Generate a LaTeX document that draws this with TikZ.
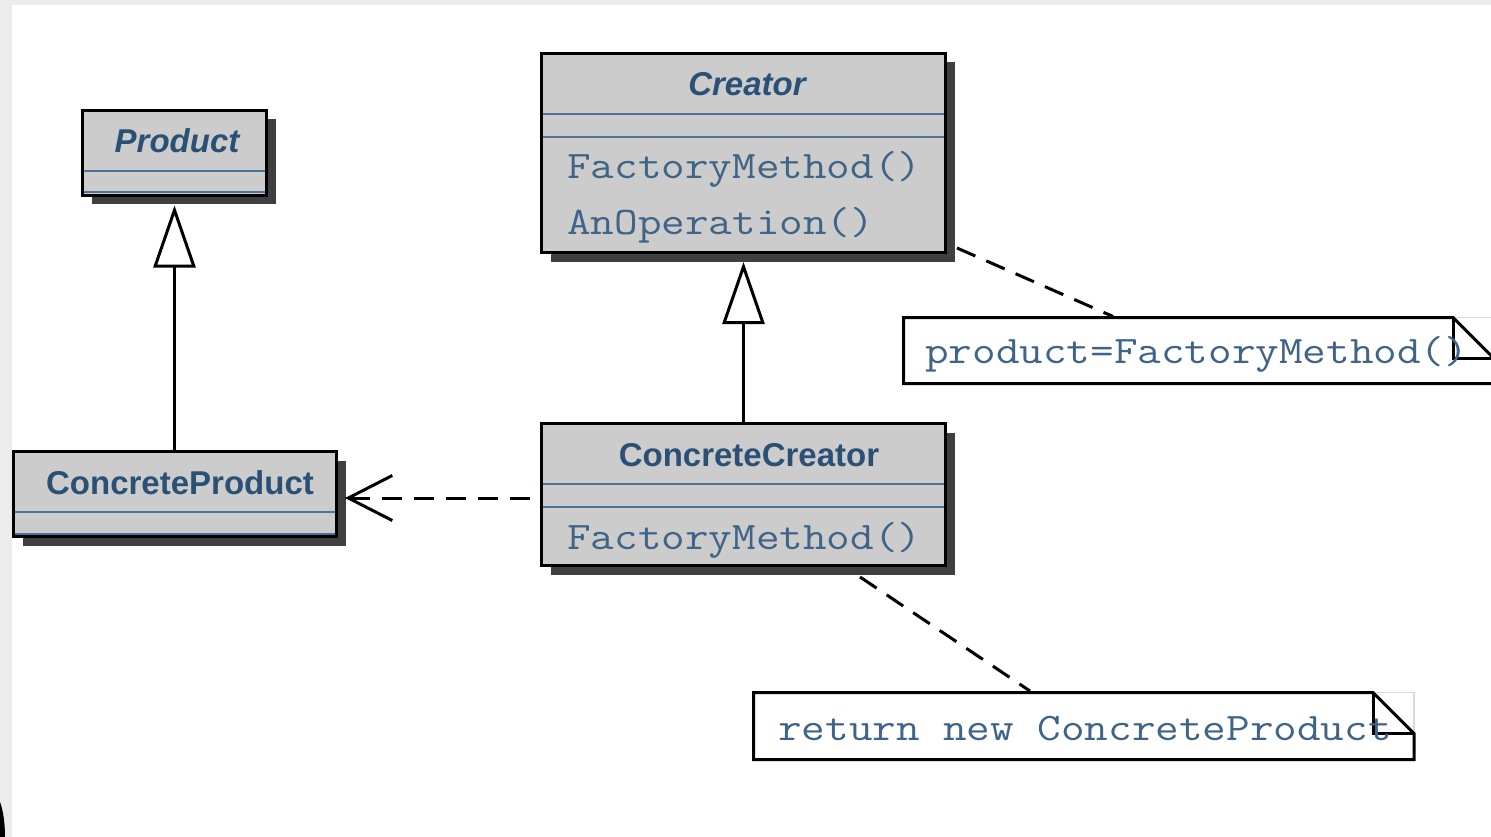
\documentclass[tikz,border=0pt]{standalone}
\usepackage{fontspec}
\setsansfont{Liberation Sans}
\setmonofont[FakeStretch=1.175]{Latin Modern Mono}
\usetikzlibrary{arrows.meta,calc,shadows}

\definecolor{boxgrey}{HTML}{CCCCCC}
\definecolor{shadowgrey}{HTML}{3F3F3F}
\definecolor{umlblue}{HTML}{2B5075}
\definecolor{sepblue}{HTML}{4D7297}
\definecolor{codeblue}{HTML}{3F6488}
\definecolor{framegrey}{HTML}{EDEBEB}
\definecolor{foldgrey}{HTML}{D9D9D9}

\tikzset{
  classbox/.style={rectangle, draw=black, line width=3pt, fill=boxgrey,
    inner sep=0pt, outer sep=0pt,
    general shadow={fill=shadowgrey, draw=none, shadow xshift=9pt, shadow yshift=-9pt}},
  notebox/.style={rectangle, draw=none, inner sep=0pt, outer sep=0pt},
  noteline/.style={draw=black, line width=3pt, line join=miter},
  foldhint/.style={draw=foldgrey, line width=1.5pt},
  sepline/.style={draw=sepblue, line width=2pt, shorten <=1.5pt, shorten >=1.5pt},
  classname/.style={inner sep=0pt, text=umlblue,
    font=\sffamily\bfseries\fontsize{33}{40}\selectfont},
  abstractname/.style={classname, font=\sffamily\bfseries\itshape\fontsize{33}{40}\selectfont},
  oper/.style={inner sep=0pt, anchor=base west, text=codeblue,
    font=\ttfamily\fontsize{39}{47}\selectfont},
  inherit/.style={draw=black, line width=3pt,
    -{Triangle[length=62pt, width=42pt, fill=white]}},
  depends/.style={draw=black, line width=3pt, dash pattern=on 20pt off 12pt,
    -{Straight Barb[length=44pt, width=45pt]}},
  anchorline/.style={draw=black, line width=3pt, dash pattern=on 20pt off 12pt},
}

\begin{document}
\begin{tikzpicture}[x=1pt, y=-1pt]
  \useasboundingbox (0,0) rectangle (1491,837);
  \fill[white] (0,0) rectangle (1491,837);
  % frame strips along the top and left edges
  \fill[framegrey] (0,0) rectangle (1491,5);
  \fill[framegrey] (0,0) rectangle (12,837);
  \fill[black] (0,802) .. controls (3,810) and (5,822) .. (5,837) -- (0,837) -- cycle;

  % class boxes
  \node[classbox, minimum width=184pt, minimum height=85pt] (prod) at (174.5,153) {};
  \node[classbox, minimum width=404pt, minimum height=199pt] (creator) at (743.5,153) {};
  \node[classbox, minimum width=404pt, minimum height=142pt] (cc) at (743.5,494.5) {};
  \node[classbox, minimum width=323pt, minimum height=85pt] (cp) at (175,494) {};

  % compartment separators
  \draw[sepline] ($(prod.north west)+(0,60.5)$) -- ($(prod.north east)+(0,60.5)$);
  \draw[sepline] ($(prod.north west)+(0,81.5)$) -- ($(prod.north east)+(0,81.5)$);
  \draw[sepline] ($(creator.north west)+(0,60.5)$) -- ($(creator.north east)+(0,60.5)$);
  \draw[sepline] ($(creator.north west)+(0,83.5)$) -- ($(creator.north east)+(0,83.5)$);
  \draw[sepline] ($(cc.north west)+(0,60.5)$) -- ($(cc.north east)+(0,60.5)$);
  \draw[sepline] ($(cc.north west)+(0,83.5)$) -- ($(cc.north east)+(0,83.5)$);
  \draw[sepline] ($(cp.north west)+(0,60.5)$) -- ($(cp.north east)+(0,60.5)$);
  \draw[sepline] ($(cp.north west)+(0,82.5)$) -- ($(cp.north east)+(0,82.5)$);

  % class names and operations
  \node[abstractname] (prodname) at (177,141) {Product};
  \node[abstractname] (creatorname) at (747,84) {Creator};
  \node[classname] (ccname) at (749,455) {ConcreteCreator};
  \node[classname] (cpname) at (180,483) {ConcreteProduct};
  \node[oper] (cfactory) at (567,179) {FactoryMethod()};
  \node[oper] (cop) at (567,235) {AnOperation()};
  \node[oper] (ccfactory) at (567,549) {FactoryMethod()};

  % notes with a folded corner
  \node[notebox, minimum width=590.5pt, minimum height=66pt] (note1) at (1198.75,350.5) {};
  \node[notebox, minimum width=660.5pt, minimum height=67pt] (note2) at (1083.75,726) {};
  \foreach \n/\f in {note1/41, note2/41} {
    \draw[foldhint] ($(\n.north east)+(-\f,0)$) -- (\n.north east) -- ($(\n.north east)+(0,\f)$);
    \filldraw[noteline, fill=white] (\n.north west) -- ($(\n.north east)+(-\f,0)$)
      -- ($(\n.north east)+(0,\f)$) -- (\n.south east) -- (\n.south west) -- cycle;
    \draw[noteline] ($(\n.north east)+(-\f,0)$) -- ($(\n.north east)+(-\f,\f)$)
      -- ($(\n.north east)+(0,\f)$);
  }
  \node[oper] (note1text) at (925,363) {product=FactoryMethod()};
  \node[oper] (note2text) at (778,740) {return new ConcreteProduct};

  % connectors
  \draw[inherit] (cp.north -| prod.south) -- ($(prod.south)+(0,10)$);
  \draw[inherit] (cc.north) -- ($(creator.south)+(0,9.5)$);
  \draw[depends] ($(cc.west)+(-12,3.5)$) -- ($(cp.east)+(8.5,4)$);
  \draw[anchorline] ($(creator.south east)+(11.5,-4.5)$) -- ($(note1.north west)+(209.5,-1)$);
  \draw[anchorline] ($(cc.south)+(116.5,11.5)$) -- ($(note2.north west)+(276.5,-1.5)$);
\end{tikzpicture}
\end{document}
